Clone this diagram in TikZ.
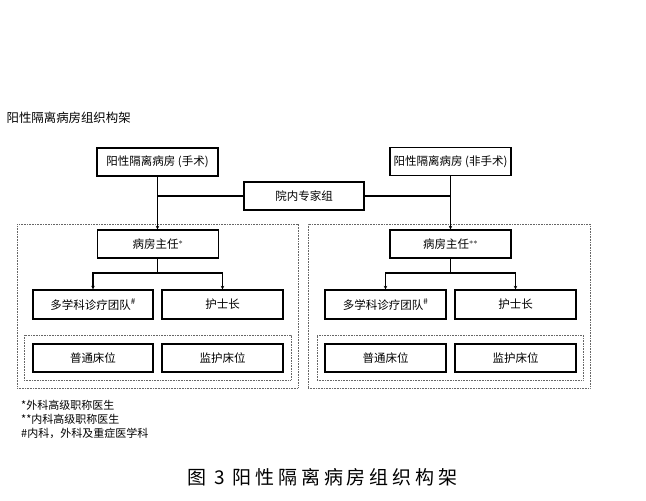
\documentclass[tikz,border=0pt]{standalone}
\usepackage{fontspec}
\setmainfont{Noto Sans CJK SC}
\usetikzlibrary{arrows.meta}
\begin{document}
\begin{tikzpicture}[x=1pt,y=-1pt,
  box/.style={draw=black, line width=1.3pt, minimum width=121pt, minimum height=28pt, inner sep=0pt, font=\fontsize{11.5}{13}\selectfont},
  dotbox/.style={draw=black!60, line width=0.8pt, dash pattern=on 0.8pt off 0.8pt, inner sep=0pt},
  conn/.style={line width=1.3pt},
  arr/.style={line width=1.3pt, -{Stealth[length=3.5pt,width=3.5pt]}},
  lbl/.style={anchor=west, inner sep=0pt, font=\fontsize{11.5}{13}\selectfont}]
\useasboundingbox (0,0) rectangle (646,501);
\node[lbl, font=\fontsize{12.4}{14}\selectfont] (title) at (6.5,118) {阳性隔离病房组织构架};
% containers
\node[dotbox, minimum width=281pt, minimum height=164pt] (outerL) at (157.5,306) {};
\node[dotbox, minimum width=282pt, minimum height=164pt] (outerR) at (449,306) {};
\node[dotbox, minimum width=267pt, minimum height=45pt] (innerL) at (157.5,357.5) {};
\node[dotbox, minimum width=266pt, minimum height=45pt] (innerR) at (450,357.5) {};
% top
\node[box] (A) at (157.5,162) {阳性隔离病房 (手术)};
\node[box] (B) at (450.5,161.5) {阳性隔离病房 (非手术)};
\node[box, minimum width=120pt] (E) at (304,196) {院内专家组};
% left
\node[box] (DL) at (158,244) {病房主任$^{*}$};
\node[box, minimum width=120pt, minimum height=29pt] (ML) at (93,304.5) {多学科诊疗团队$^{\#}$};
\node[box, minimum width=121pt, minimum height=29pt] (NL) at (222.5,304.5) {护士长};
\node[box, minimum width=120pt] (PL) at (93,358) {普通床位};
\node[box, minimum width=121pt] (JL) at (222.5,358) {监护床位};
% right
\node[box] (DR) at (450.5,244) {病房主任$^{**}$};
\node[box, minimum width=121pt, minimum height=29pt] (MR) at (385.5,304.5) {多学科诊疗团队$^{\#}$};
\node[box, minimum width=121pt, minimum height=29pt] (NR) at (515.5,304.5) {护士长};
\node[box, minimum width=121pt] (PR) at (385.5,358) {普通床位};
\node[box, minimum width=121pt] (JR) at (515.5,358) {监护床位};
% connectors
\draw[arr] (A.south) -- (A.south |- DL.north);
\draw[conn] (E.west) -- (E.west -| A.south);
\draw[arr] (B.south) -- (B.south |- DR.north);
\draw[conn] (E.east) -- (E.east -| B.south);
\coordinate (jL) at (157.5,273);
\coordinate (jR) at (450.5,273);
\draw[conn] (DL.south -| jL) -- (jL);
\draw[arr] (jL) -| (ML.north);
\draw[arr] (jL) -| (NL.north);
\draw[conn] (DR.south -| jR) -- (jR);
\draw[arr] (jR) -| (MR.north);
\draw[arr] (jR) -| (NR.north);
% notes
\node[lbl, font=\fontsize{11}{13}\selectfont] (n1) at (21,405) {*外科高级职称医生};
\node[lbl, font=\fontsize{11}{13}\selectfont] (n2) at (21,419) {**内科高级职称医生};
\node[lbl, font=\fontsize{11}{13}\selectfont] (n3) at (21,433) {\#内科，外科及重症医学科};
\node[lbl, font=\fontsize{19}{22}\selectfont\addfontfeature{LetterSpace=20}] (cap) at (187,477) {图 3 阳性隔离病房组织构架};
\end{tikzpicture}
\end{document}
